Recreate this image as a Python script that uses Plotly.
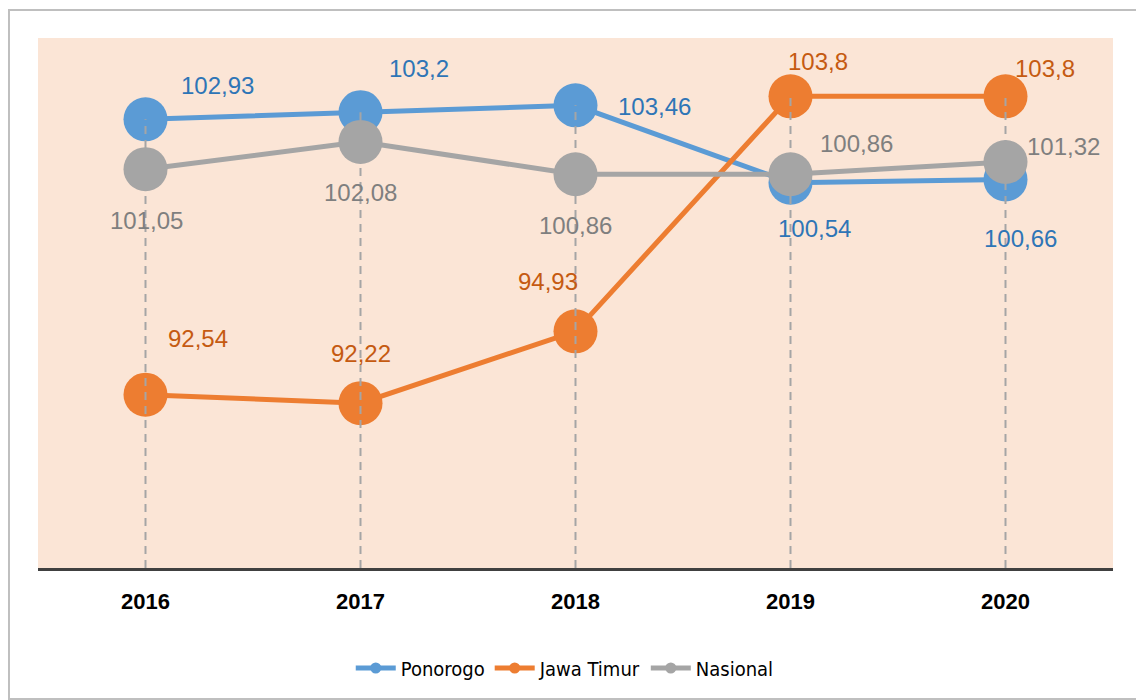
import plotly.graph_objects as go

years = ["2016", "2017", "2018", "2019", "2020"]
ponorogo = [102.93, 103.2, 103.46, 100.54, 100.66]
jawa_timur = [92.54, 92.22, 94.93, 103.8, 103.8]
nasional = [101.05, 102.08, 100.86, 100.86, 101.32]

series_names = ["Ponorogo", "Jawa Timur", "Nasional"]
series_values = [ponorogo, jawa_timur, nasional]
line_colors = ["#5B9BD5", "#ED7D31", "#A5A5A5"]
label_colors = ["#2E75B6", "#C55A11", "#7F7F7F"]

# label offsets (xshift, yshift) in px, per series per point
label_offsets = [
    [(72, 34), (58, 44), (79, -1), (24, -46), (15, -59)],
    [(52, 56), (0, 50), (-28, 50), (27, 35), (39, 28)],
    [(1, -51), (0, -51), (0, -51), (66, 31), (58, 16)],
]

Y_MIN, Y_MAX = 86, 106

fig = go.Figure()

for name, vals, col in zip(series_names, series_values, line_colors):
    fig.add_trace(go.Scatter(
        x=years, y=vals, mode="lines+markers", name=name,
        line=dict(color=col, width=5),
        marker=dict(color=col, size=44),
        showlegend=False, hoverinfo="skip",
    ))
    # legend proxy with small marker
    fig.add_trace(go.Scatter(
        x=[None], y=[None], mode="lines+markers", name=name,
        line=dict(color=col, width=5),
        marker=dict(color=col, size=11),
        showlegend=True,
    ))

# drop lines (on top of markers); category axis -> use category index
for i, yr in enumerate(years):
    top = max(v[i] for v in series_values)
    fig.add_shape(type="line", xref="x", yref="y", x0=i, x1=i,
                  y0=Y_MIN, y1=top, layer="above",
                  line=dict(color="#A5A5A5", width=2, dash="8px,6px"))

annotations = []
for vals, lc, offs in zip(series_values, label_colors, label_offsets):
    for i, (v, (dx, dy)) in enumerate(zip(vals, offs)):
        txt = f"{v:g}".replace(".", ",")
        annotations.append(dict(
            x=i, y=v, xref="x", yref="y", text=txt, showarrow=False,
            xshift=dx, yshift=dy,
            font=dict(family="Liberation Sans, Arial, sans-serif", size=24, color=lc),
        ))

# outer border
fig.add_shape(type="rect", xref="paper", yref="paper",
              x0=-0.027, x1=1.0235, y0=-0.247, y1=1.0528,
              line=dict(color="#BFBFBF", width=2), fillcolor="rgba(0,0,0,0)",
              layer="below")

fig.update_layout(
    width=1136, height=692,
    margin=dict(l=30, r=31, t=30, b=132),
    paper_bgcolor="white",
    plot_bgcolor="#FBE5D6",
    annotations=annotations,
    showlegend=True,
    legend=dict(orientation="h", x=0.49, xanchor="center", y=-0.1887, yanchor="middle",
                font=dict(family="DejaVu Sans Condensed, Liberation Sans Narrow, sans-serif", size=20, color="#000000"),
                itemwidth=40, bgcolor="rgba(0,0,0,0)"),
    xaxis=dict(type="category", range=[-0.5, 4.5], showgrid=False, zeroline=False,
               showline=True, linecolor="#404040", linewidth=3,
               ticks="", ticklabelstandoff=12,
               tickfont=dict(family="Liberation Sans, Arial, sans-serif", size=22, color="#000000", weight="bold")),
    yaxis=dict(range=[Y_MIN, Y_MAX], showgrid=False, zeroline=False, showline=False,
               showticklabels=False, ticks=""),
)

fig.write_html("out.html")
